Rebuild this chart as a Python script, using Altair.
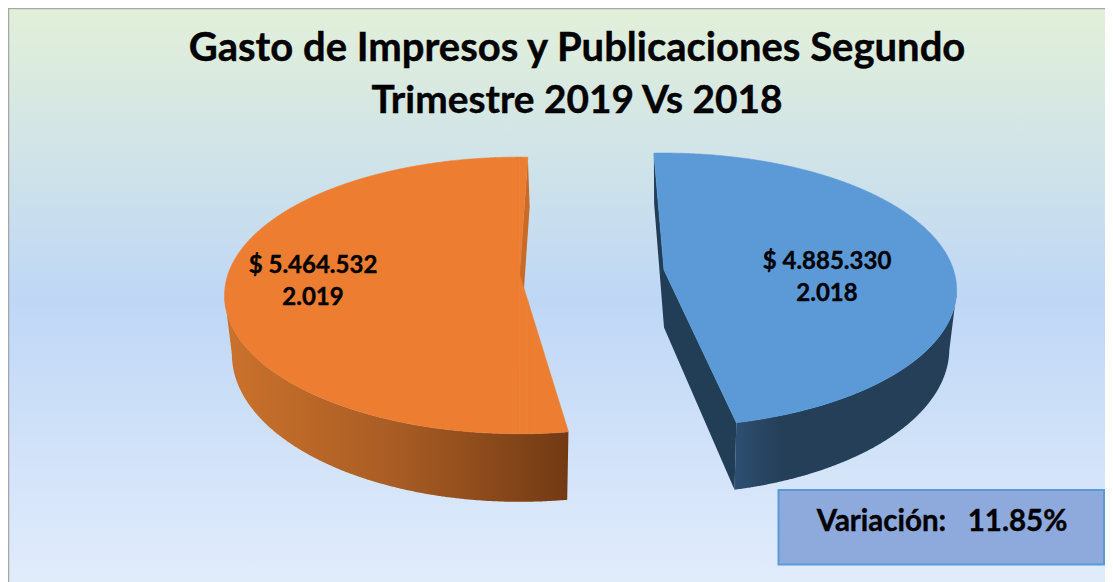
import math
import altair as alt

# ---- values ----
YEARS = ["2.019", "2.018"]
VALUES = [5464532, 4885330]
TITLE_LINES = ["Gasto de Impresos y Publicaciones Segundo", "Trimestre 2019 Vs 2018"]
NOTE = "Variación:\u00a0\u00a0\u00a011.85%"

ORANGE, BLUE = "#EC7D31", "#5B9AD6"
TOTAL = sum(VALUES)
X = alt.X("x:Q", scale=alt.Scale(domain=[8, 1105], nice=False, zero=False), axis=None)
Y = alt.Y("y:Q", scale=alt.Scale(domain=[8, 582], nice=False, zero=False, reverse=True), axis=None)
Y2 = alt.Y2("y2:Q")


def project(slice_, t, bottom=False):
    cx, cy, A, B, k = slice_["cx"], slice_["cy"], slice_["A"], slice_["B"], slice_["k"]
    u, v = math.sin(math.radians(t)), math.cos(math.radians(t))
    w = 1 + k * v
    px, py = A * u / w, -B * v / w
    if bottom:
        return cx + 0.975 * px, cy + py + slice_["h"] / w
    return cx + px, cy + py


def arc(slice_, t0, t1, bottom=False):
    n = max(2, int(abs(t1 - t0) * 2))
    return [project(slice_, t0 + (t1 - t0) * i / n, bottom) for i in range(n + 1)]


def bands(poly):
    """Cut a polygon into x-monotone strips that an area mark can draw."""
    xs = set()
    for p in poly:
        xs.update((p[0] - 0.01, p[0] + 0.01))
    rows, seg, prev = [], 0, None
    for x in sorted(xs):
        ys = []
        for a, b in zip(poly, poly[1:] + poly[:1]):
            if (a[0] <= x) != (b[0] <= x):
                ys.append(a[1] + (b[1] - a[1]) * (x - a[0]) / (b[0] - a[0]))
        ys.sort()
        pairs = len(ys) // 2
        if pairs != prev:
            seg += 1
            prev = pairs
        for i in range(pairs):
            rows.append({"piece": f"{seg}-{i}", "x": x, "y": ys[2 * i], "y2": ys[2 * i + 1]})
    return rows


def shape(poly, fill, stroke=None):
    kw = {"stroke": stroke, "strokeWidth": 0.6} if stroke else {}
    return alt.Chart(alt.Data(values=bands(poly))).mark_area(
        fill=fill, orient="vertical", interpolate="linear", **kw
    ).encode(x=X, y=Y, y2=Y2, detail="piece:N")


def wall_gradient(stops):
    return alt.Gradient(
        gradient="linear", x1=0, x2=1, y1=0, y2=0,
        stops=[alt.GradientStop(offset=o, color=c) for o, c in stops],
    )


s_or = {"cx": 519.5, "cy": 274, "A": 291.4, "B": 135, "k": 0.155, "h": 57.5}
s_bl = {"cx": 664, "cy": 270, "A": 289.5, "B": 134, "k": 0.146, "h": 57.5}

# slice angles come from the values
sweep_or = 360 * VALUES[0] / TOTAL
sweep_bl = 360 * VALUES[1] / TOTAL
or0, or1 = 1.9, 1.9 - sweep_or
bl0, bl1 = -2.3, -2.3 + sweep_bl

layers = []

# background
layers.append(
    alt.Chart(alt.Data(values=[{"x": 8, "x2": 1105, "y": 8, "y2": 582}])).mark_rect(
        fill=alt.Gradient(
            gradient="linear", x1=0, x2=0, y1=0, y2=1,
            stops=[
                alt.GradientStop(offset=0, color="#E2F0D9"),
                alt.GradientStop(offset=0.51, color="#BFD7F6"),
                alt.GradientStop(offset=1, color="#E1ECFB"),
            ],
        )
    ).encode(x=X, x2="x2:Q", y=Y, y2=Y2)
)
layers.append(
    alt.Chart(alt.Data(values=[{"x": 8.5, "y": 8, "y2": 582}])).mark_rule(color="#A6A6A6", strokeWidth=1.5).encode(x=X, y=Y, y2=Y2)
)
layers.append(
    alt.Chart(alt.Data(values=[{"x": 8, "x2": 1105, "y": 8.5}])).mark_rule(color="#A6A6A6", strokeWidth=1.5).encode(x=X, x2="x2:Q", y=Y)
)

# orange slice
a_top = (s_or["cx"], s_or["cy"])
a_bot = (s_or["cx"], s_or["cy"] + s_or["h"])
p0 = project(s_or, or0, True)
layers.append(shape(
    [project(s_or, or0), (p0[0] + 2, p0[1]), (a_bot[0] + 1.5, a_bot[1]), a_top], "#C76B27"
))
sil = -99.0
layers.append(shape(
    arc(s_or, sil, or1) + arc(s_or, or1, sil, True),
    wall_gradient([(0, "#CB722C"), (0.5, "#A85C24"), (1, "#723A14")]),
))
layers.append(shape(arc(s_or, or0, or1) + [a_top], ORANGE, ORANGE))

# blue slice
b_top = (s_bl["cx"], s_bl["cy"])
b_bot = (s_bl["cx"], s_bl["cy"] + s_bl["h"])
layers.append(shape(
    [project(s_bl, bl0), project(s_bl, bl0, True), b_bot, project(s_bl, bl1, True), project(s_bl, bl1), b_top],
    "#223E56",
))
layers.append(shape(
    arc(s_bl, 99.0, bl1) + arc(s_bl, bl1, 99.0, True),
    wall_gradient([(0, "#2E4F72"), (0.22, "#243F57"), (1, "#243F57")]),
))
layers.append(shape(arc(s_bl, bl0, bl1) + [b_top], BLUE, BLUE))


def text(rows, size):
    return alt.Chart(alt.Data(values=rows)).mark_text(
        font="Lato", fontWeight="bold", fontSize=size, color="#000000", align="center", baseline="middle",
        stroke="#000000", strokeWidth=0.4,
    ).encode(x=X, y=Y, text="t:N")


# title
layers.append(text([{"t": TITLE_LINES[0], "x": 577, "y": 49}], 40))
layers.append(text([{"t": TITLE_LINES[1], "x": 577, "y": 101}], 38.8))

# data labels
money = [f"$ {v:,}".replace(",", ".") for v in VALUES]
layers.append(text([
    {"t": money[0], "x": 313, "y": 266},
    {"t": YEARS[0], "x": 313, "y": 298},
    {"t": money[1], "x": 827, "y": 262},
    {"t": YEARS[1], "x": 827, "y": 294},
], 24))

# note box
layers.append(
    alt.Chart(alt.Data(values=[{"x": 778.5, "x2": 1104, "y": 490, "y2": 564.5}])).mark_rect(
        fill="#8EA9DB", stroke="#5B9BD5", strokeWidth=2
    ).encode(x=X, x2="x2:Q", y=Y, y2=Y2)
)
layers.append(text([{"t": NOTE, "x": 942, "y": 522}], 29.5))

chart = alt.layer(*layers).properties(width=1097, height=574, padding=0, autosize=alt.AutoSizeParams(type="none")).configure_view(stroke=None)
chart.save("out.html", embed_options={"renderer": "svg", "actions": False})
